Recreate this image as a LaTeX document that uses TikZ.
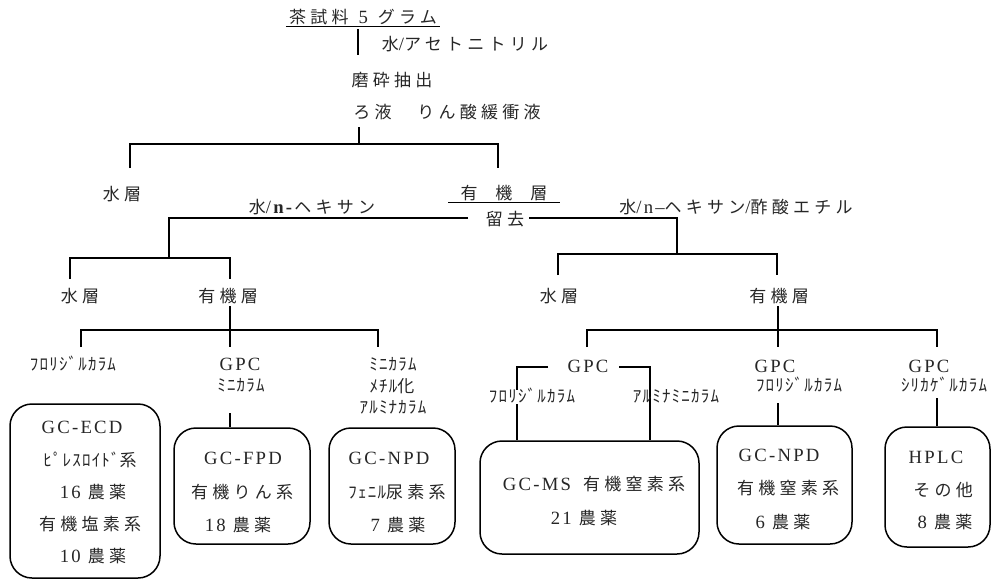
\documentclass[tikz,border=0pt]{standalone}
\usepackage{fontspec}
\setmainfont[LetterSpace=12,Scale=1.1]{Liberation Serif}
\newfontfamily\jpf[LetterSpace=25]{Noto Sans CJK JP}
\newfontfamily\hkf[LetterSpace=7]{Noto Sans CJK JP}
\newcommand\jt[1]{{\jpf #1}}
\newcommand\hkt[1]{{\hkf #1}}
\newcommand\gp{\hspace{7pt}}
\begin{document}
\begin{tikzpicture}[x=1pt,y=-1pt,
  lbl/.style={inner sep=1pt, text=black!85, font=\fontsize{17}{20}\selectfont},
  boxnode/.style={draw, line width=1.5pt, rounded corners=22pt, inner sep=0pt},
  ln/.style={line width=1.5pt}]
\useasboundingbox (0,0) rectangle (995,581);
% ---- top
\node[lbl] (t0) at (363,17) {\jt{茶試料}\hspace{10pt}5\hspace{10pt}\jt{グラム}};
\node[lbl] (t1) at (465,44) {\jt{水}/\jt{アセトニトリル}};
\node[lbl] (t2) at (392,80) {\jt{磨砕抽出}};
\node[lbl] (t3) at (447,112) {\jt{ろ液}\hspace{26pt}\jt{りん酸緩衝液}};
\node[lbl] (t4) at (122,194) {\jt{水層}};
\node[lbl] (t5) at (504,193) {\jt{有}\hspace{18pt}\jt{機}\hspace{18pt}\jt{層}};
\node[lbl] (t6) at (312,207) {\jt{水}/\textbf{n-}\jt{ヘキサン}};
\node[lbl] (t7) at (505,219) {\jt{留去}};
\node[lbl] (t8) at (736,207) {\jt{水}/n–\jt{ヘキサン}/\jt{酢酸エチル}};
\node[lbl] (t9) at (80,296) {\jt{水層}};
\node[lbl] (t10) at (228,296) {\jt{有機層}};
\node[lbl] (t11) at (559,296) {\jt{水層}};
\node[lbl] (t12) at (779,296) {\jt{有機層}};
% ---- level 3 labels left
\node[lbl] (f1) at (73,364) {\hkt{ﾌﾛﾘｼﾞﾙｶﾗﾑ}};
\node[lbl] (g1) at (240,364) {GPC};
\node[lbl] (g1s) at (241,385) {\hkt{ﾐﾆｶﾗﾑ}};
\node[lbl] (m1) at (393,364) {\hkt{ﾐﾆｶﾗﾑ}};
\node[lbl] (m2) at (392,386) {\hkt{ﾒﾁﾙ}\jt{化}};
\node[lbl] (m3) at (393,407) {\hkt{ｱﾙﾐﾅｶﾗﾑ}};
% ---- level 3 labels right
\node[lbl] (g2) at (588,366) {GPC};
\node[lbl] (g3) at (775,366) {GPC};
\node[lbl] (g3s) at (799,385) {\hkt{ﾌﾛﾘｼﾞﾙｶﾗﾑ}};
\node[lbl] (g4) at (929,366) {GPC};
\node[lbl] (g4s) at (944,385) {\hkt{ｼﾘｶｹﾞﾙｶﾗﾑ}};
% ---- boxes
\node[boxnode, minimum width=150pt, minimum height=174pt] (ecd) at (85,491) {};
\node[boxnode, minimum width=136pt, minimum height=116pt] (fpd) at (242,486) {};
\node[boxnode, minimum width=126pt, minimum height=116pt] (npd1) at (392,486) {};
\node[boxnode, minimum width=219pt, minimum height=113pt] (ms) at (589.5,497.5) {};
\node[boxnode, minimum width=135pt, minimum height=118pt] (npd2) at (784.5,485) {};
\node[boxnode, minimum width=105pt, minimum height=120pt] (hplc) at (937.5,487) {};
% ---- box texts
\node[lbl] (e1) at (82,427) {GC-ECD};
\node[lbl] (e2) at (90,460) {\hkt{ﾋﾟﾚｽﾛｲﾄﾞ}\jt{系}};
\node[lbl] (e3) at (93,492) {16\gp\jt{農薬}};
\node[lbl] (e4) at (90,524) {\jt{有機塩素系}};
\node[lbl] (e5) at (93,556) {10\gp\jt{農薬}};
\node[lbl] (p1) at (243,458) {GC-FPD};
\node[lbl] (p2) at (242,492) {\jt{有機りん系}};
\node[lbl] (p3) at (238,525) {18\gp\jt{農薬}};
\node[lbl] (n1) at (389,458) {GC-NPD};
\node[lbl] (n2) at (397,492) {\hkt{ﾌｪﾆﾙ}\jt{尿素系}};
\node[lbl] (n3) at (398,525) {7\gp\jt{農薬}};
\node[lbl] (s1) at (594,484) {GC-MS\hspace{12pt}\jt{有機窒素系}};
\node[lbl] (s2) at (584,518) {21\gp\jt{農薬}};
\node[lbl] (q1) at (779,455) {GC-NPD};
\node[lbl] (q2) at (788,488) {\jt{有機窒素系}};
\node[lbl] (q3) at (783,522) {6\gp\jt{農薬}};
\node[lbl] (h1) at (936,457) {HPLC};
\node[lbl] (h2) at (943,490) {\jt{その他}};
\node[lbl] (h3) at (945,522) {8\gp\jt{農薬}};
% ---- underlines
\draw[line width=1pt] (t0.south west) ++(-2,0) -- ([xshift=2pt]t0.south east);
\draw[line width=1pt] (448,202) -- (560,202);
% ---- connectors: top
\coordinate (a0) at (358,29); \coordinate (a1) at (358,55);
\draw[ln] (a0) -- (a1);
\coordinate (b0) at (359,127); \coordinate (b1) at (359,144);
\coordinate (bL) at (130,144); \coordinate (bR) at (498,144);
\coordinate (bL2) at (130,168); \coordinate (bR2) at (498,168);
\draw[ln] (b0) -- (b1);
\draw[ln] (bL2) -- (bL) -- (bR) -- (bR2);
% ---- second split
\coordinate (cL0) at (468,218); \coordinate (cL) at (169,218); \coordinate (cL2) at (169,258);
\coordinate (cR0) at (529,218); \coordinate (cR) at (677,218); \coordinate (cR2) at (677,254);
\draw[ln] (cL0) -- (cL) -- (cL2);
\draw[ln] (cR0) -- (cR) -- (cR2);
\coordinate (dL) at (70,258); \coordinate (dR) at (230,258);
\coordinate (dL2) at (70,279); \coordinate (dR2) at (230,279);
\draw[ln] (dL2) -- (dL) -- (dR) -- (dR2);
\coordinate (eL) at (558,254); \coordinate (eR) at (777,254);
\coordinate (eL2) at (558,275); \coordinate (eR2) at (777,275);
\draw[ln] (eL2) -- (eL) -- (eR) -- (eR2);
% ---- third split left
\coordinate (f0) at (230,306); \coordinate (f1c) at (230,347);
\draw[ln] (f0) -- (f1c);
\coordinate (fa) at (81,347); \coordinate (fb) at (81,330);
\coordinate (fc) at (378,330); \coordinate (fd) at (378,347);
\draw[ln] (fa) -- (fb) -- (fc) -- (fd);
\coordinate (fp0) at (230,413);
\draw[ln] (fp0) -- (fp0 |- fpd.north);
% ---- third split right
\coordinate (r0) at (778,306); \coordinate (r1) at (778,347);
\draw[ln] (r0) -- (r1);
\coordinate (ra) at (587,347); \coordinate (rb) at (587,330);
\coordinate (rc) at (937,330); \coordinate (rd) at (937,347);
\draw[ln] (ra) -- (rb) -- (rc) -- (rd);
% bracket under GPC
\coordinate (kL0) at (548,367); \coordinate (kL) at (517,367);
\coordinate (kL1) at (517,390); \coordinate (kL2) at (517,404);
\coordinate (kR0) at (619,367); \coordinate (kR) at (650,367);
\draw[ln] (kL0) -- (kL) -- (kL1);
\draw[ln] (kL2) -- (kL2 |- ms.north);
\draw[ln] (kR0) -- (kR) -- (kR |- ms.north);
\node[lbl] (g2a) at (532,396) {\hkt{ﾌﾛﾘｼﾞﾙｶﾗﾑ}};
\node[lbl] (g2b) at (676,396) {\hkt{ｱﾙﾐﾅﾐﾆｶﾗﾑ}};
\coordinate (v3) at (778,403);
\draw[ln] (v3) -- (v3 |- npd2.north);
\coordinate (v4) at (937,398);
\draw[ln] (v4) -- (v4 |- hplc.north);
\end{tikzpicture}
\end{document}
